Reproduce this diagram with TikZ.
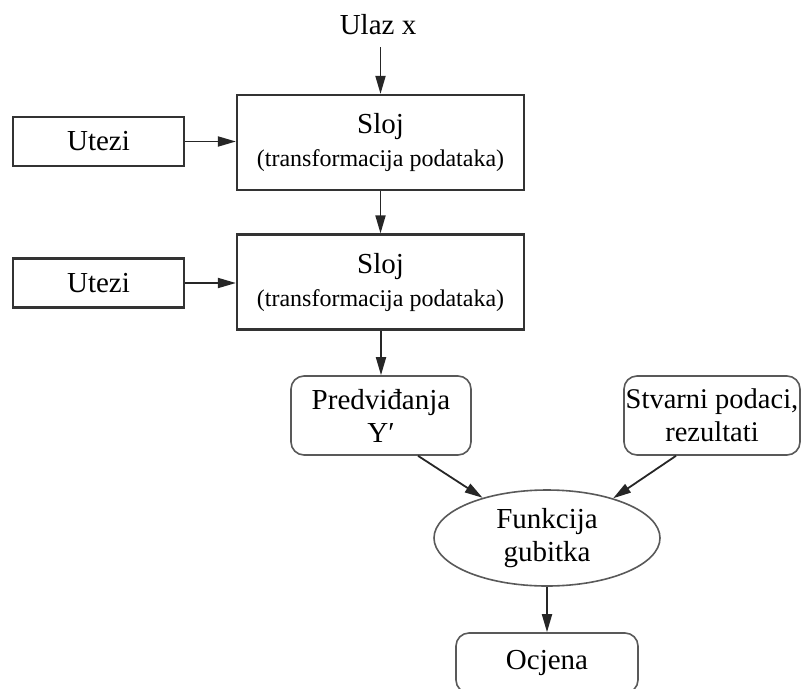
\documentclass[tikz,border=0pt]{standalone}
\usepackage{fontspec}
\setmainfont{Liberation Serif}
\usetikzlibrary{shapes.geometric,arrows.meta}
\begin{document}
\begin{tikzpicture}[x=1pt,y=-1pt,
  big/.style={font=\fontsize{29}{33}\selectfont},
  sq/.style={big, draw=black!80, line width=2.2pt, minimum width=287pt, minimum height=95pt, inner sep=0pt, align=center},
  wt/.style={big, draw=black!80, line width=2.2pt, minimum width=171pt, minimum height=49pt, inner sep=0pt},
  rbox/.style={big, draw=black!65, line width=1.6pt, rounded corners=13pt, minimum width=180pt, minimum height=79pt, inner sep=0pt, align=center},
  oval/.style={big, ellipse, draw=black!65, line width=1.6pt, minimum width=226pt, minimum height=96pt, inner sep=0pt, align=center},
  arr/.style={-{Triangle[length=18pt,width=10pt]}, line width=1.8pt, draw=black!85},
]
\useasboundingbox (0,0) rectangle (802,688);
\node[big, inner xsep=4pt, inner ysep=12pt] (in) at (378,25) {Ulaz x};
\node[sq] (s1) at (380.5,142.5) {Sloj\\{\fontsize{24}{31}\selectfont (transformacija podataka)}};
\node[sq] (s2) at (380.5,282) {Sloj\\{\fontsize{24}{31}\selectfont (transformacija podataka)}};
\node[wt] (u1) at (98.5,141.5) {Utezi};
\node[wt] (u2) at (98.5,283) {Utezi};
\node[rbox] (p) at (381,415.5) {Predviđanja\\Y′};
\node[rbox, minimum width=176pt, font=\fontsize{28.5}{33}\selectfont] (r) at (712,415.5) {Stvarni podaci,\\rezultati};
\node[oval] (f) at (547,538) {Funkcija\\gubitka};
\node[rbox, minimum width=182pt, minimum height=60pt] (o) at (547,663) {Ocjena};

\draw[arr] (in.south -| s1.north) -- (s1.north);
\draw[arr] (s1.south) -- (s2.north);
\draw[arr] (u1.east) -- (u1.east -| s1.west);
\draw[arr] (u2.east) -- (u2.east -| s2.west);
\draw[arr] (s2.south -| p.north) -- (p.north);
\draw[arr] ([xshift=37pt]p.south) -- (f.148);
\draw[arr] ([xshift=-36pt]r.south) -- (f.31);
\draw[arr] (f.south) -- (o.north);
\end{tikzpicture}
\end{document}
